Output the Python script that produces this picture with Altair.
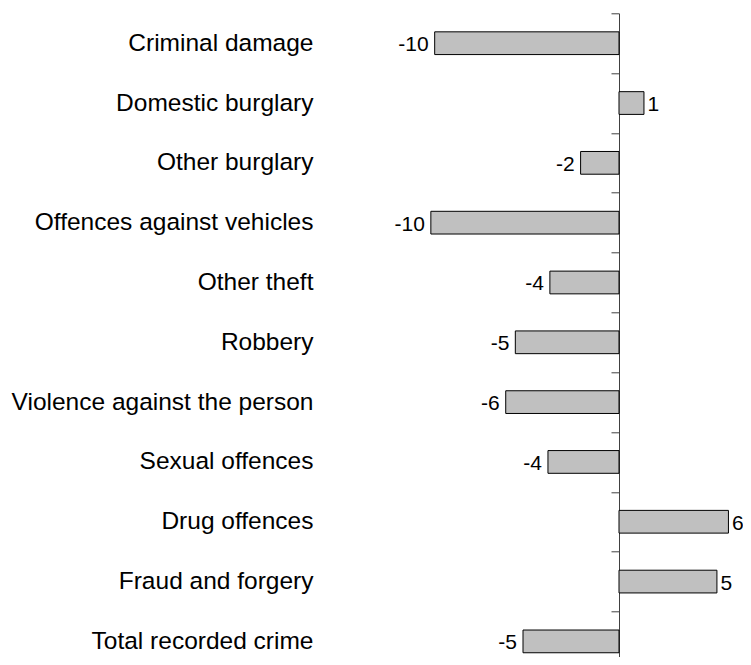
import altair as alt
import pandas as pd

categories = [
    "Criminal damage",
    "Domestic burglary",
    "Other burglary",
    "Offences against vehicles",
    "Other theft",
    "Robbery",
    "Violence against the person",
    "Sexual offences",
    "Drug offences",
    "Fraud and forgery",
    "Total recorded crime",
]
values = [-9.6, 1.3, -2.0, -9.8, -3.6, -5.4, -5.9, -3.7, 5.7, 5.1, -5.0]
labels = ["-10", "1", "-2", "-10", "-4", "-5", "-6", "-4", "6", "5", "-5"]

df = pd.DataFrame({"category": categories, "value": values, "label": labels})

FONT = "Liberation Sans"

y_enc = alt.Y(
    "category:N",
    sort=categories,
    scale=alt.Scale(paddingInner=0, paddingOuter=0),
    axis=alt.Axis(
        title=None,
        orient="left",
        offset=-298,
        domain=True,
        domainColor="#404040",
        domainWidth=1,
        ticks=True,
        tickBand="extent",
        tickSize=8,
        tickColor="#404040",
        tickWidth=1,
        labelFont=FONT,
        labelFontSize=24.5,
        labelColor="black",
        labelPadding=298,
        labelLimit=0,
        labelAlign="right",
    ),
)
x_enc = alt.X(
    "value:Q",
    scale=alt.Scale(domain=[-15.521, 6.458], nice=False, zero=False),
    axis=None,
)

bars = alt.Chart(df).mark_bar(
    fill="#C0C0C0", stroke="black", strokeWidth=1, height={"band": 0.38}
).encode(x=x_enc, y=y_enc)

neg_text = alt.Chart(df).transform_filter("datum.value < 0").mark_text(
    align="right", baseline="middle", dx=-6, dy=2, font=FONT, fontSize=21, color="black"
).encode(x=x_enc, y=y_enc, text="label:N")

pos_text = alt.Chart(df).transform_filter("datum.value >= 0").mark_text(
    align="left", baseline="middle", dx=3.5, dy=2, font=FONT, fontSize=21, color="black"
).encode(x=x_enc, y=y_enc, text="label:N")

chart = alt.layer(bars, neg_text, pos_text).properties(
    width=422,
    height=658,
    autosize=alt.AutoSizeParams(type="none"),
    padding={"left": 313, "top": 5.3, "right": 0, "bottom": -14.3},
    background="white",
).configure_view(strokeWidth=0)

chart.save("out.html", embed_options={"renderer": "svg", "actions": False})
